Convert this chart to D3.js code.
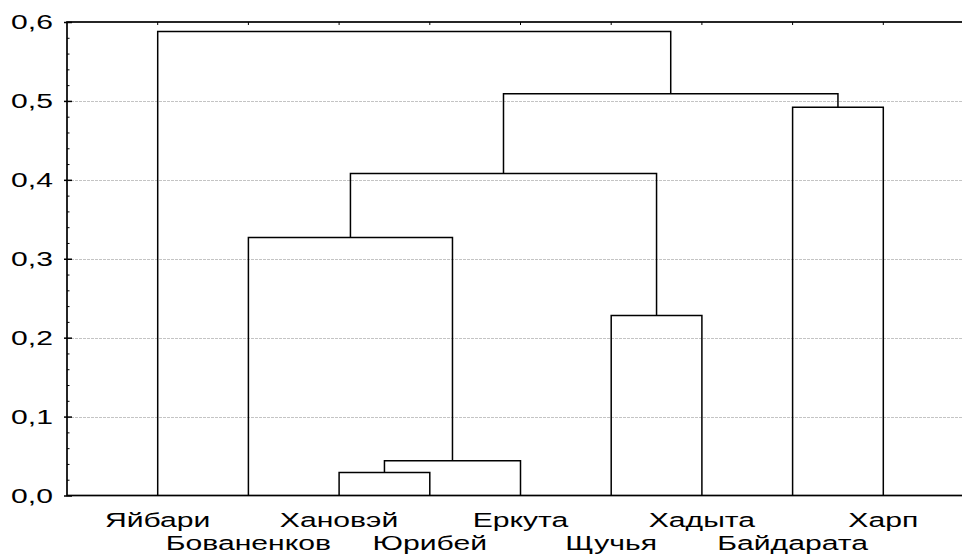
<!DOCTYPE html>
<html>
<head>
<meta charset="utf-8">
<script src="https://cdn.jsdelivr.net/npm/d3@7"></script>
<style>
  body { margin: 0; background: #fff; overflow: hidden; }
  svg { display: block; font-family: "Liberation Sans", Arial, sans-serif; }
</style>
</head>
<body>
<div id="chart"></div>
<script>
// leaves in dendrogram order
const leaves = ["Яйбари", "Бованенков", "Хановэй", "Юрибей", "Еркута", "Щучья", "Хадыта", "Байдарата", "Харп"];
// each merge joins two members (leaf name or cluster "c1".."c8") at a linkage distance
const mergeLeft  = ["Хановэй", "c1", "Бованенков", "Щучья", "c3", "Байдарата", "c5", "Яйбари"];
const mergeRight = ["Юрибей", "Еркута", "c2", "Хадыта", "c4", "Харп", "c6", "c7"];
const mergeHeight = [0.029, 0.044, 0.327, 0.228, 0.408, 0.492, 0.509, 0.588];
const yTicks = [0, 0.1, 0.2, 0.3, 0.4, 0.5, 0.6];

const width = 962, height = 554;
const margin = {top: 22, right: -12, bottom: 58.5, left: 67};
const stretch = 1.47; // text in the original is drawn wide

const svg = d3.select("#chart").append("svg")
    .attr("width", width)
    .attr("height", height);

const x = d3.scalePoint()
    .domain(leaves)
    .range([margin.left, width - margin.right])
    .padding(1);

const y = d3.scaleLinear()
    .domain([0, 0.6])
    .range([height - margin.bottom, margin.top]);

const fmt = d => d3.format(".1f")(d).replace(".", ",");

// grid lines
svg.append("g")
    .selectAll("line")
    .data(yTicks.slice(1, -1))
    .join("line")
    .attr("x1", margin.left).attr("x2", width - margin.right)
    .attr("y1", d => Math.round(y(d)) + 0.5).attr("y2", d => Math.round(y(d)) + 0.5)
    .attr("stroke", "#c4c4c4")
    .attr("stroke-dasharray", "3,1");

// dendrogram links
const pos = {};
leaves.forEach(l => pos[l] = {x: x(l), h: 0});
const links = svg.append("g")
    .attr("fill", "none")
    .attr("stroke", "#000")
    .attr("stroke-width", 1.5);
mergeHeight.forEach((h, i) => {
  const a = pos[mergeLeft[i]], b = pos[mergeRight[i]];
  links.append("path")
    .attr("d", `M${a.x},${y(a.h)}V${y(h)}H${b.x}V${y(b.h)}`);
  pos["c" + (i + 1)] = {x: (a.x + b.x) / 2, h: h};
});

// frame
svg.append("rect")
    .attr("x", margin.left).attr("y", margin.top)
    .attr("width", width - margin.right - margin.left)
    .attr("height", y(0) - margin.top)
    .attr("fill", "none")
    .attr("stroke", "#000")
    .attr("stroke-width", 1.7);

// top ticks at leaf positions
svg.append("g")
    .selectAll("line")
    .data(leaves)
    .join("line")
    .attr("x1", d => x(d)).attr("x2", d => x(d))
    .attr("y1", margin.top).attr("y2", margin.top + 3)
    .attr("stroke", "#000");

// left axis
const minor = d3.range(0, 0.601, 0.02).filter(v => Math.abs(v * 10 - Math.round(v * 10)) > 1e-6);
svg.append("g")
    .attr("transform", `translate(${margin.left},0)`)
    .call(d3.axisLeft(y).tickValues(minor).tickSize(-2.5).tickFormat(""))
    .call(g => g.select(".domain").remove());
svg.append("g")
    .attr("transform", `translate(${margin.left},0)`)
    .call(d3.axisLeft(y).tickValues(yTicks).tickSize(-5).tickPadding(14).tickFormat(fmt))
    .call(g => g.select(".domain").remove())
    .call(g => g.selectAll(".tick line").attr("x1", -3).attr("stroke-width", 1.5))
    .call(g => g.selectAll("text")
        .attr("font-size", 20.5).attr("fill", "#000")
        .attr("font-family", "Liberation Sans, Arial, sans-serif")
        .attr("x", -14 / stretch)
        .attr("transform", `scale(${stretch},1)`));

// leaf labels, alternating rows
svg.append("g")
    .selectAll("text")
    .data(leaves)
    .join("text")
    .attr("transform", (d, i) => `translate(${x(d)},${i % 2 === 0 ? 526.5 : 549.5}) scale(${stretch},1)`)
    .attr("text-anchor", "middle")
    .attr("font-size", 20.5)
    .text(d => d);
</script>
</body>
</html>
